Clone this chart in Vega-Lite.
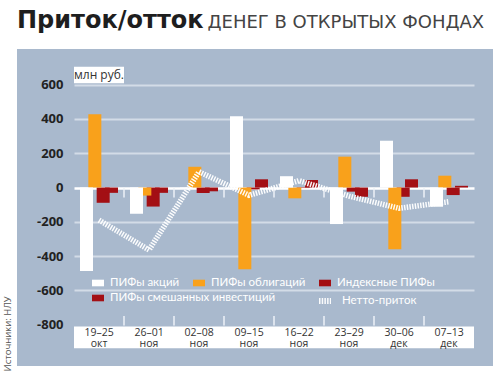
{
  "$schema": "https://vega.github.io/schema/vega-lite/v6.json",
  "width": 476,
  "height": 317,
  "autosize": {"type": "none"},
  "padding": {"left": 17, "top": 49, "right": 7, "bottom": 9},
  "background": "#FFFFFF",
  "view": {"fill": "#A9B9CD", "stroke": null},
  "config": {"font": "Open Sans"},
  "title": {
    "text": "Приток/отток",
    "anchor": "start",
    "frame": "group",
    "font": "DejaVu Sans",
    "fontSize": 24,
    "fontWeight": "bold",
    "color": "#1E1E1E",
    "offset": -20
  },
  "datasets": {
    "weeks": [
      {"week": "19–25 окт"}, {"week": "26–01 ноя"}, {"week": "02–08 ноя"}, {"week": "09–15 ноя"},
      {"week": "16–22 ноя"}, {"week": "23–29 ноя"}, {"week": "30–06 дек"}, {"week": "07–13 дек"}
    ],
    "bars": [
      {"week": "19–25 окт", "series": "Индексные ПИФы", "value": -31},
      {"week": "26–01 ноя", "series": "Индексные ПИФы", "value": -31},
      {"week": "02–08 ноя", "series": "Индексные ПИФы", "value": -22},
      {"week": "09–15 ноя", "series": "Индексные ПИФы", "value": 48},
      {"week": "16–22 ноя", "series": "Индексные ПИФы", "value": 44},
      {"week": "23–29 ноя", "series": "Индексные ПИФы", "value": -54},
      {"week": "30–06 дек", "series": "Индексные ПИФы", "value": 48},
      {"week": "07–13 дек", "series": "Индексные ПИФы", "value": 10},
      {"week": "19–25 окт", "series": "ПИФы облигаций", "value": 427},
      {"week": "26–01 ноя", "series": "ПИФы облигаций", "value": -47},
      {"week": "02–08 ноя", "series": "ПИФы облигаций", "value": 121},
      {"week": "09–15 ноя", "series": "ПИФы облигаций", "value": -477},
      {"week": "16–22 ноя", "series": "ПИФы облигаций", "value": -63},
      {"week": "23–29 ноя", "series": "ПИФы облигаций", "value": 180},
      {"week": "30–06 дек", "series": "ПИФы облигаций", "value": -360},
      {"week": "07–13 дек", "series": "ПИФы облигаций", "value": 69},
      {"week": "19–25 окт", "series": "ПИФы акций", "value": -487},
      {"week": "26–01 ноя", "series": "ПИФы акций", "value": -153},
      {"week": "02–08 ноя", "series": "ПИФы акций", "value": -4},
      {"week": "09–15 ноя", "series": "ПИФы акций", "value": 416},
      {"week": "16–22 ноя", "series": "ПИФы акций", "value": 66},
      {"week": "23–29 ноя", "series": "ПИФы акций", "value": -213},
      {"week": "30–06 дек", "series": "ПИФы акций", "value": 273},
      {"week": "07–13 дек", "series": "ПИФы акций", "value": -112},
      {"week": "19–25 окт", "series": "ПИФы смешанных инвестиций", "value": -89},
      {"week": "26–01 ноя", "series": "ПИФы смешанных инвестиций", "value": -111},
      {"week": "02–08 ноя", "series": "ПИФы смешанных инвестиций", "value": -32},
      {"week": "09–15 ноя", "series": "ПИФы смешанных инвестиций", "value": -11},
      {"week": "16–22 ноя", "series": "ПИФы смешанных инвестиций", "value": -3},
      {"week": "23–29 ноя", "series": "ПИФы смешанных инвестиций", "value": -24},
      {"week": "30–06 дек", "series": "ПИФы смешанных инвестиций", "value": -54},
      {"week": "07–13 дек", "series": "ПИФы смешанных инвестиций", "value": -44}
    ],
    "net": [
      {"week": "19–25 окт", "name": "Нетто-приток", "value": -190},
      {"week": "26–01 ноя", "name": "Нетто-приток", "value": -364},
      {"week": "02–08 ноя", "name": "Нетто-приток", "value": 92},
      {"week": "09–15 ноя", "name": "Нетто-приток", "value": -45},
      {"week": "16–22 ноя", "name": "Нетто-приток", "value": 40},
      {"week": "23–29 ноя", "name": "Нетто-приток", "value": -50},
      {"week": "30–06 дек", "name": "Нетто-приток", "value": -121},
      {"week": "07–13 дек", "name": "Нетто-приток", "value": -83}
    ],
    "unit": [{"label": "млн руб."}]
  },
  "layer": [
    {
      "data": {"name": "weeks"},
      "mark": {"type": "rect", "color": "#FFFFFF"},
      "encoding": {
        "x": {
          "field": "week", "type": "nominal", "sort": null,
          "scale": {"domain": ["19–25 окт","26–01 ноя","02–08 ноя","09–15 ноя","16–22 ноя","23–29 ноя","30–06 дек","07–13 дек"], "range": [57, 457], "paddingInner": 0, "paddingOuter": 0},
          "axis": {
            "title": "ДЕНЕГ В ОТКРЫТЫХ ФОНДАХ",
            "titleX": 190, "titleY": -300, "titleAlign": "left", "titleAnchor": "start", "titleBaseline": "alphabetic", "titleAngle": 0,
            "titleFont": "DejaVu Sans", "titleFontSize": 18, "titleFontWeight": "normal", "titleColor": "#444444",
            "orient": "bottom", "offset": -39, "domain": false, "ticks": false, "grid": false,
            "labelAngle": 0, "labelExpr": "split(datum.label, ' ')", "labelBaseline": "top", "labelPadding": 0,
            "labelFont": "Open Sans", "labelFontSize": 10.5, "labelColor": "#333333", "labelLineHeight": 11, "zindex": 1
          }
        },
        "y": {"datum": -811, "type": "quantitative"},
        "y2": {"datum": -937}
      }
    },
    {
      "data": {"name": "weeks"},
      "transform": [{"filter": "datum.week !== '19–25 окт'"}],
      "mark": {"type": "rule", "color": "#EEF2F7", "strokeWidth": 1.5},
      "encoding": {
        "x": {"field": "week", "type": "nominal", "sort": null, "bandPosition": 0,
          "scale": {"domain": ["19–25 окт","26–01 ноя","02–08 ноя","09–15 ноя","16–22 ноя","23–29 ноя","30–06 дек","07–13 дек"], "range": [57, 457], "paddingInner": 0, "paddingOuter": 0}},
        "y": {"datum": 0, "type": "quantitative"},
        "y2": {"datum": -58}
      }
    },
    {
      "data": {"name": "weeks"},
      "transform": [{"filter": "datum.week !== '19–25 окт'"}],
      "mark": {"type": "rule", "color": "#EEF2F7", "strokeWidth": 1.5},
      "encoding": {
        "x": {"field": "week", "type": "nominal", "sort": null, "bandPosition": 0,
          "scale": {"domain": ["19–25 окт","26–01 ноя","02–08 ноя","09–15 ноя","16–22 ноя","23–29 ноя","30–06 дек","07–13 дек"], "range": [57, 457], "paddingInner": 0, "paddingOuter": 0}},
        "y": {"datum": -750, "type": "quantitative"},
        "y2": {"datum": -805}
      }
    },
    {
      "data": {"name": "unit"},
      "layer": [
        {
          "mark": {"type": "rect", "color": "#FFFFFF"},
          "encoding": {
            "x": {"datum": "19–25 окт", "type": "nominal"},
            "y": {"datum": 608, "type": "quantitative"},
            "y2": {"datum": 704}
          }
        },
        {
          "mark": {"type": "text", "font": "Open Sans", "fontSize": 12, "color": "#333333", "baseline": "middle", "align": "center"},
          "encoding": {
            "x": {"datum": "19–25 окт", "type": "nominal"},
            "y": {"datum": 656, "type": "quantitative"},
            "text": {"field": "label"}
          }
        }
      ]
    },
    {
      "data": {"name": "bars"},
      "transform": [{"filter": "datum.series === 'ПИФы смешанных инвестиций'"}],
      "mark": {"type": "bar", "width": 13},
      "encoding": {
        "x": {"field": "week", "type": "nominal", "sort": null,
          "scale": {"domain": ["19–25 окт","26–01 ноя","02–08 ноя","09–15 ноя","16–22 ноя","23–29 ноя","30–06 дек","07–13 дек"], "range": [57, 457], "paddingInner": 0, "paddingOuter": 0}},
        "xOffset": {"field": "series", "type": "nominal", "scale": {"domain": ["ПИФы акций", "ПИФы облигаций", "ПИФы смешанных инвестиций", "Индексные ПИФы"], "paddingInner": 0, "paddingOuter": 1.5714}},
        "y": {
          "field": "value", "type": "quantitative", "stack": null,
          "scale": {"domain": [-1041, 808], "nice": false, "zero": false},
          "axis": {
            "title": "Источники: НЛУ", "titleAngle": -90, "titleAlign": "left", "titleBaseline": "middle",
            "titleX": -67, "titleY": 322, "titleFont": "Open Sans", "titleFontSize": 9.5, "titleFontWeight": "normal", "titleColor": "#555555",
            "orient": "left", "offset": -57, "values": [-800, -600, -400, -200, 0, 200, 400, 600],
            "domain": false, "ticks": false, "labelPadding": 11,
            "labelFont": "Open Sans", "labelFontSize": 13, "labelFontWeight": "bold", "labelColor": "#222222",
            "labelExpr": "'' + datum.value",
            "grid": true,
            "gridColor": {"condition": {"test": "datum.value === 0", "value": "#FFFFFF"}, "value": "#D3DCE7"},
            "gridWidth": {"condition": {"test": "datum.value === 0", "value": 2.5}, "value": 2},
            "gridOpacity": {"condition": {"test": "datum.value === -800", "value": 0}, "value": 1}
          }
        },
        "fill": {
          "field": "series", "type": "nominal",
          "scale": {"domain": ["ПИФы смешанных инвестиций"], "range": ["#A30F14"]},
          "legend": {
            "orient": "none", "legendX": 75, "legendY": 243, "title": null,
            "symbolType": "M-1,-0.55H1V0.55H-1Z", "symbolSize": 144, "symbolStrokeWidth": 0,
            "labelColor": "#FFFFFF", "labelFont": "Lato", "labelFontSize": 11.5, "labelOffset": 6, "labelLimit": 400, "padding": 0
          }
        }
      }
    },
    {
      "data": {"name": "bars"},
      "transform": [{"filter": "datum.series !== 'ПИФы смешанных инвестиций'"}],
      "mark": {"type": "bar", "width": 13},
      "encoding": {
        "x": {"field": "week", "type": "nominal", "sort": null,
          "scale": {"domain": ["19–25 окт","26–01 ноя","02–08 ноя","09–15 ноя","16–22 ноя","23–29 ноя","30–06 дек","07–13 дек"], "range": [57, 457], "paddingInner": 0, "paddingOuter": 0}},
        "xOffset": {"field": "series", "type": "nominal", "scale": {"domain": ["ПИФы акций", "ПИФы облигаций", "ПИФы смешанных инвестиций", "Индексные ПИФы"], "paddingInner": 0, "paddingOuter": 1.5714}},
        "y": {"field": "value", "type": "quantitative", "stack": null},
        "color": {
          "field": "series", "type": "nominal",
          "scale": {"domain": ["ПИФы акций", "ПИФы облигаций", "Индексные ПИФы"], "range": ["#FFFFFF", "#F9A11B", "#A30F14"]},
          "legend": {
            "orient": "none", "legendX": 75, "legendY": 228, "direction": "horizontal", "title": null,
            "symbolType": "M-1,-0.55H1V0.55H-1Z", "symbolSize": 144, "symbolStrokeWidth": 0,
            "labelColor": "#FFFFFF", "labelFont": "Lato", "labelFontSize": 11.5, "labelOffset": 6, "labelLimit": 400,
            "columnPadding": 13, "padding": 0, "gridAlign": "none"
          }
        }
      }
    },
    {
      "data": {"name": "net"},
      "mark": {"type": "line", "strokeWidth": 5.5, "strokeDash": [1.5, 1.2], "opacity": 0.95},
      "encoding": {
        "x": {"field": "week", "type": "nominal", "sort": null,
          "scale": {"domain": ["19–25 окт","26–01 ноя","02–08 ноя","09–15 ноя","16–22 ноя","23–29 ноя","30–06 дек","07–13 дек"], "range": [57, 457], "paddingInner": 0, "paddingOuter": 0}},
        "y": {"field": "value", "type": "quantitative"},
        "stroke": {
          "field": "name", "type": "nominal",
          "scale": {"domain": ["Нетто-приток"], "range": ["#FFFFFF"]},
          "legend": {
            "orient": "none", "legendX": 299, "legendY": 243, "title": null,
            "symbolType": "M-1,0H1", "symbolSize": 144, "symbolStrokeWidth": 6, "symbolDash": [1.5, 1.2],
            "labelColor": "#FFFFFF", "labelFont": "Lato", "labelFontSize": 11.5, "labelOffset": 8, "labelLimit": 400, "padding": 0
          }
        }
      }
    }
  ]
}
